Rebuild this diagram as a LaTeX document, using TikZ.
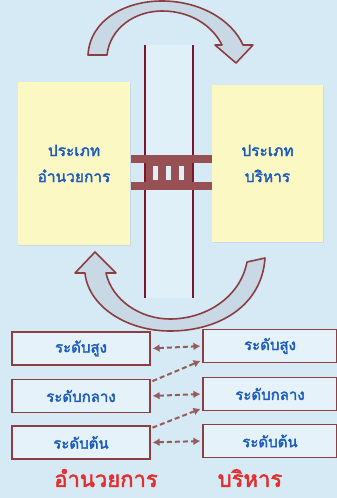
\documentclass[tikz,border=0pt]{standalone}
\usepackage{fontspec}
\newfontfamily\thaifont[Script=Thai, AutoFakeBold=2.2]{Loma}
\usetikzlibrary{arrows.meta}
\usetikzlibrary{shadows}

\definecolor{bgblue}{RGB}{214,234,245}
\definecolor{stripblue}{RGB}{224,240,249}
\definecolor{boxyellow}{RGB}{252,248,196}
\definecolor{txtblue}{RGB}{28,92,190}
\definecolor{linebrown}{RGB}{140,62,66}
\definecolor{rodred}{RGB}{125,22,45}
\definecolor{dashbrown}{RGB}{150,92,92}
\definecolor{arrowfill}{RGB}{200,216,228}
\definecolor{titlered}{RGB}{228,45,45}

\tikzset{
  typebox/.style={fill=boxyellow, drop shadow={opacity=0.15,shadow xshift=1pt,shadow yshift=-1pt},
    text=txtblue, align=center, font=\thaifont\bfseries\fontsize{15.5}{26}\selectfont},
  levelbox/.style={draw=linebrown, line width=1.2pt, fill=bgblue!60!white, text=txtblue,
    minimum height=33pt, font=\thaifont\bfseries\fontsize{15}{17}\selectfont},
  titletext/.style={inner sep=0pt, text=titlered,
    font=\thaifont\bfseries\fontsize{22}{24}\selectfont},
  bigarrow/.style={draw=linebrown, line width=1.6pt, fill=arrowfill, line join=round},
  dasharrow/.style={dashbrown, line width=2pt, dash pattern=on 5pt off 3pt,
    >={Latex[length=7pt,width=8pt]}, shorten >=2pt, shorten <=2pt},
}

\begin{document}
\begin{tikzpicture}[x=1pt, y=-1pt]

% Background and picture size
\fill[bgblue] (0,0) rectangle (337,498);
\useasboundingbox (0,0) rectangle (337,498);

% Pale strip between the two rods
\fill[stripblue] (145,45) rectangle (193,298);
\draw[rodred, line width=1.2pt] (145,45) -- (145,298);
\draw[rodred, line width=1.2pt] (193,45) -- (193,298);

% Ladder between the two boxes
\fill[linebrown!90] (131,155) rectangle (212,163);
\fill[linebrown!90] (131,182) rectangle (212,190);
\fill[linebrown!90] (146,163) rectangle (192,182);
\foreach \x in {153,166,179}
  \fill[stripblue] (\x,165.5) rectangle ++(5,14.5);

% The two types
\node[typebox, minimum width=112pt, minimum height=163pt] (amnuay) at (74,163.5) {ประเภท\\อำนวยการ};
\node[typebox, minimum width=111pt, minimum height=157pt] (borihan) at (267.5,163.5) {ประเภท\\บริหาร};

% Curved arrow on top
\filldraw[bigarrow] (88,55) .. controls (90,20) and (125,1) .. (162,1)
  .. controls (200,1) and (232,20) .. (243,45) -- (253,45) -- (236,63) -- (215,45) -- (222,45)
  .. controls (212,25) and (190,11) .. (162,11)
  .. controls (135,11) and (110,28) .. (107,55) -- cycle;

% Curved arrow below
\filldraw[bigarrow] (265,258) .. controls (262,305) and (220,331) .. (170,331)
  .. controls (125,331) and (88,305) .. (85,273) -- (75,273) -- (95,252) -- (116,273) -- (106,273)
  .. controls (112,300) and (140,319) .. (170,319)
  .. controls (205,319) and (240,298) .. (247,262) -- cycle;

% Levels
\node[levelbox, minimum width=138pt] (lsung)  at (81,348.5) {ระดับสูง};
\node[levelbox, minimum width=138pt] (lklang) at (81,396)   {ระดับกลาง};
\node[levelbox, minimum width=138pt] (lton)   at (81,442.5) {ระดับต้น};
\node[levelbox, minimum width=134pt] (rsung)  at (270,346)  {ระดับสูง};
\node[levelbox, minimum width=134pt] (rklang) at (270,394)  {ระดับกลาง};
\node[levelbox, minimum width=134pt] (rton)   at (270,441)  {ระดับต้น};

\draw[dasharrow, <->] (lsung.east) -- (rsung.west);
\draw[dasharrow, <->] (lklang.east) -- (rklang.west);
\draw[dasharrow, <->] (lton.east) -- (rton.west);
\draw[dasharrow, ->] ([yshift=-3pt]lklang.north east) -- ([yshift=3pt]rsung.south west);
\draw[dasharrow, ->] ([yshift=-3pt]lton.north east) -- ([yshift=3pt]rklang.south west);

% Column titles
\node[titletext] (lblamnuay) at (106,478) {อำนวยการ};
\node[titletext] (lblborihan) at (250,478) {บริหาร};

\end{tikzpicture}
\end{document}
